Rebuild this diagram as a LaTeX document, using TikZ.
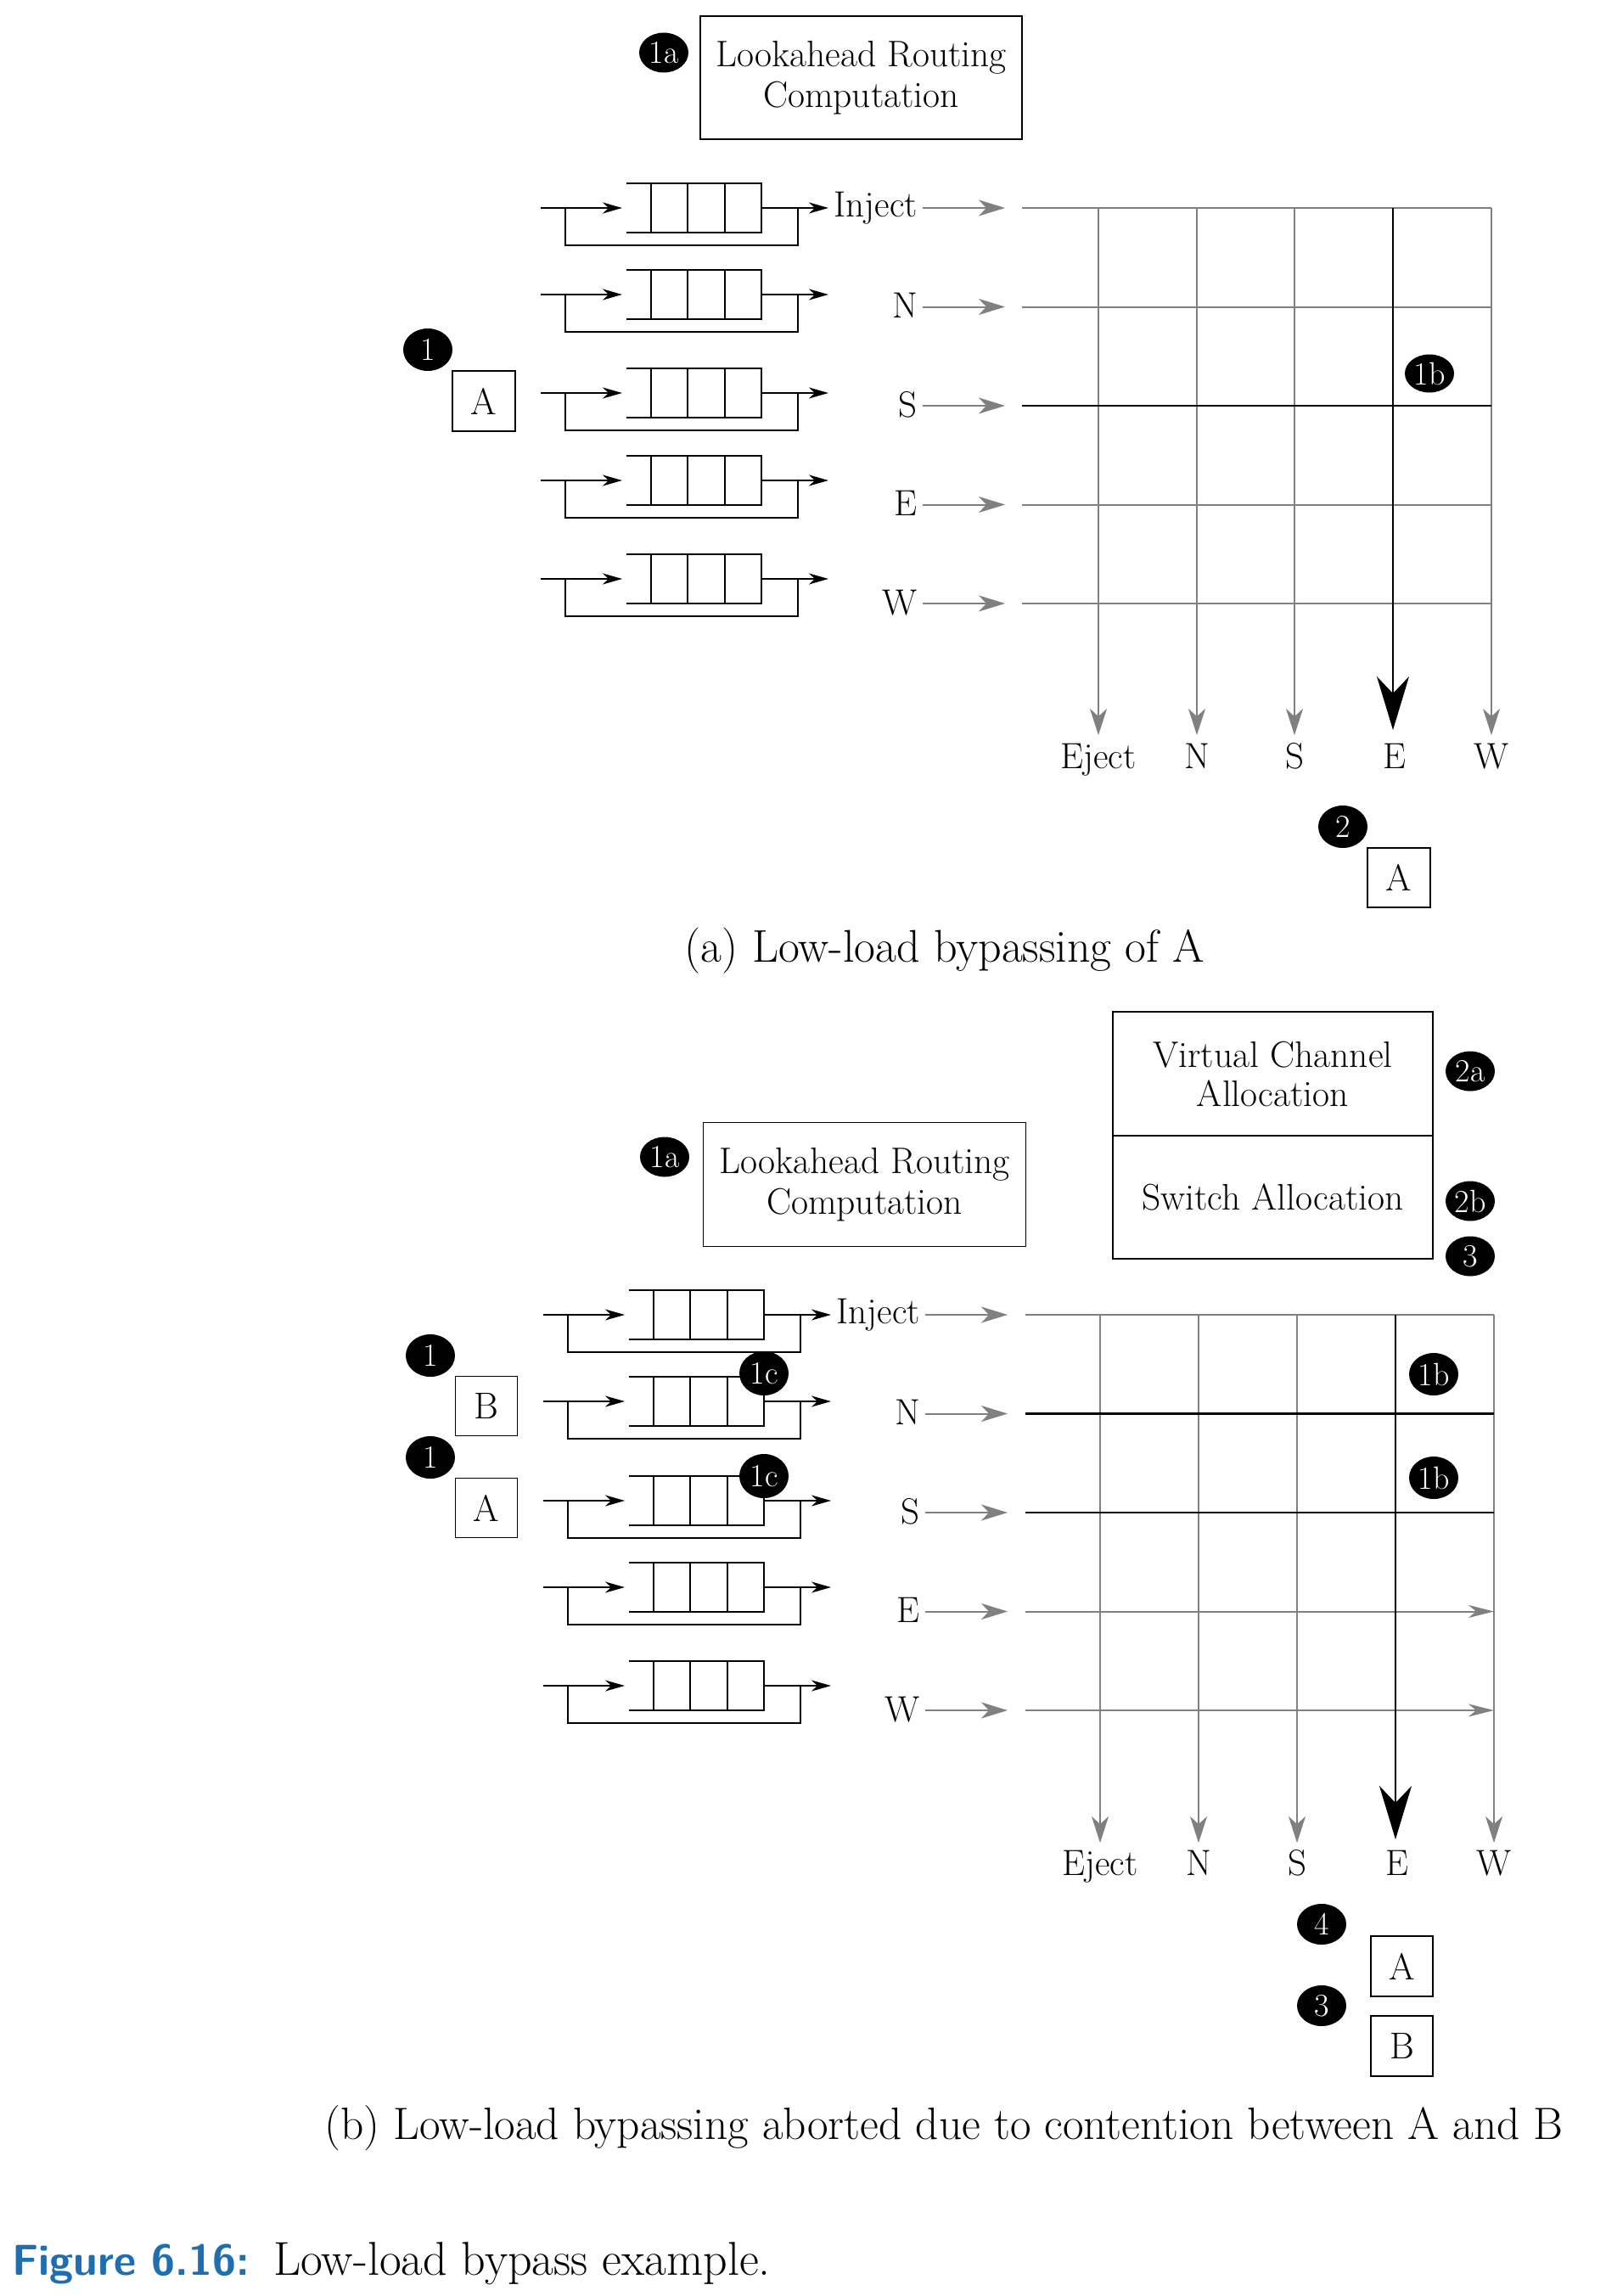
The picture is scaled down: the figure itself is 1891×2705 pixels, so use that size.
\documentclass[tikz,border=0pt]{standalone}
\usepackage{fontspec}
\usetikzlibrary{arrows.meta,shapes.geometric}
\definecolor{gridgray}{RGB}{128,128,128}
\definecolor{figblue}{RGB}{31,110,176}
\tikzset{
  qline/.style={line width=2pt, black},
  qarrow/.style={-{Stealth[length=23pt,width=13pt,inset=7pt]}},
  gline/.style={line width=2pt, gridgray},
  garrow/.style={-{Stealth[length=31pt,width=19pt,inset=9pt]}, gridgray, line width=2pt},
  gvarrow/.style={-{Stealth[length=31pt,width=20pt,inset=9pt]}, gridgray, line width=2pt},
  bline/.style={line width=2.2pt, black},
  bigarrow/.style={-{Stealth[length=63pt,width=38pt,inset=20pt]}, black, line width=2.2pt},
  badge/.style={ellipse, fill=black, text=white, inner sep=0pt, minimum width=58pt, minimum height=50pt, font=\fontsize{38}{38}\selectfont},
  pbox/.style={draw, line width=1.6pt, inner sep=0pt, minimum width=73pt, minimum height=70pt, font=\fontsize{44}{44}\selectfont},
  stagebox/.style={draw, line width=1.6pt, inner sep=0pt, align=center},
  lbl/.style={font=\fontsize{43}{44}\selectfont, inner sep=0pt},
  captext/.style={font=\fontsize{54}{58}\selectfont, inner sep=0pt},
}
\newcommand{\queuerow}[3]{%
\begin{scope}[shift={(#3,#2)}]
  \coordinate (#1in) at (637,0);
  \coordinate (#1tip) at (733,0);
  \coordinate (#1out) at (897,0);
  \coordinate (#1otip) at (976,0);
  \coordinate (#1lA) at (666,1);
  \coordinate (#1lB) at (940,1);
  \draw[qline,qarrow] (#1in) -- (#1tip);
  \draw[qline] (738,-29) -- (897,-29) -- (897,29) -- (738,29);
  \foreach \xx in {767,810,854} \draw[qline] (\xx,-29) -- (\xx,29);
  \draw[qline] (#1lA) -- ++(0,43) -| (#1lB);
  \draw[qline,qarrow] (#1out) -- (#1otip);
\end{scope}}
\begin{document}
\begin{tikzpicture}[x=1pt,y=-1pt]
\useasboundingbox[fill=white] (0,0) rectangle (1891,2705);

%%%%%%%%%%%%%%%% (a)
\node[stagebox, minimum width=379pt, minimum height=145pt, font=\fontsize{43.5}{48}\selectfont] (lrcA) at (1014.5,91.5) {Lookahead Routing\\Computation};
\node[badge, minimum height=47pt] (b1aA) at (782,62) {1a};

\queuerow{qaI}{245}{0}
\queuerow{qaN}{347}{0}
\queuerow{qaS}{463}{0}
\queuerow{qaE}{566}{0}
\queuerow{qaW}{682}{0}

\foreach \nm/\yy/\tx/\dy in {I/245/Inject/10, N/361.5/N/13, S/478/S/13, E/594.5/E/13, W/711/W/13}{
  \node[lbl, anchor=base east] (laA\nm) at (1081,\yy+\dy) {\tx};
  \coordinate (gaS\nm) at (1087,\yy);
  \coordinate (gaT\nm) at (1184,\yy);
  \draw[garrow] (gaS\nm) -- (gaT\nm);
  \coordinate (haL\nm) at (1204,\yy);
  \coordinate (haR\nm) at (1757,\yy);
  \draw[gline] (haL\nm) -- (haR\nm);
}
\foreach \nm/\xx/\tx in {X/1294/Eject, N/1410/N, S/1525/S, W/1757/W}{
  \coordinate (vaT\nm) at (\xx,245);
  \coordinate (vaB\nm) at (\xx,866);
  \draw[gvarrow] (vaT\nm) -- (vaB\nm);
  \node[lbl, anchor=base] (oaA\nm) at (\xx,905) {\tx};
}
\node[lbl, anchor=base] (oaAE) at (1643,905) {E};
\draw[bline] (haLS) -- (haRS);
\coordinate (vaTE) at (1641,245);
\coordinate (vaBE) at (1641,860);
\draw[bigarrow] (vaTE) -- (vaBE);

\node[badge] (b1A) at (504,412) {1};
\node[pbox, minimum width=74pt, minimum height=71pt] (pA1) at (570,472.5) {A};
\node[badge, minimum height=45pt] (b1bA) at (1684,440) {1b};
\node[badge] (b2A) at (1582,974) {2};
\node[pbox, minimum width=74pt, minimum height=70pt] (pA2) at (1648,1034) {A};

\node[captext, anchor=base] (capA) at (1113,1133) {(a) Low-load bypassing of A};

%%%%%%%%%%%%%%%% (b)
\node[stagebox, minimum width=377pt, minimum height=146pt, font=\fontsize{43.5}{46}\selectfont] (vcB) at (1499.5,1265) {Virtual Channel\\Allocation};
\node[stagebox, minimum width=377pt, minimum height=145pt, font=\fontsize{43.5}{46}\selectfont] (saB) at (1499.5,1410.5) {Switch Allocation};
\node[badge, minimum height=47pt] (b2aB) at (1732,1262) {2a};
\node[badge, minimum height=47pt] (b2bB) at (1732,1415) {2b};
\node[badge, minimum height=47pt] (b3B) at (1732,1480) {3};

\node[stagebox, minimum width=380pt, minimum height=146pt, font=\fontsize{43.5}{48}\selectfont] (lrcB) at (1018.5,1395.5) {Lookahead Routing\\Computation};
\node[badge, minimum height=47pt] (b1aB) at (783,1363) {1a};

\queuerow{qbI}{1549}{3}
\queuerow{qbN}{1651}{3}
\queuerow{qbS}{1768}{3}
\queuerow{qbE}{1870}{3}
\queuerow{qbW}{1986}{3}

\foreach \nm/\yy/\tx/\dy in {I/1549/Inject/10, N/1665.5/N/13, S/1782/S/13, E/1898.5/E/13, W/2015/W/13}{
  \node[lbl, anchor=base east] (lbB\nm) at (1084,\yy+\dy) {\tx};
  \coordinate (gbS\nm) at (1090,\yy);
  \coordinate (gbT\nm) at (1187,\yy);
  \draw[garrow] (gbS\nm) -- (gbT\nm);
  \coordinate (hbL\nm) at (1208,\yy);
  \coordinate (hbR\nm) at (1760,\yy);
}
\foreach \nm in {I,N,S}{\draw[gline] (hbL\nm) -- (hbR\nm);}
\foreach \nm in {E,W}{\draw[gline,-{Stealth[length=30pt,width=15pt,inset=9pt]}] (hbL\nm) -- (hbR\nm);}
\foreach \nm/\xx/\tx in {X/1296/Eject, N/1412/N, S/1528/S, W/1760/W}{
  \coordinate (vbT\nm) at (\xx,1549);
  \coordinate (vbB\nm) at (\xx,2171);
  \draw[gvarrow] (vbT\nm) -- (vbB\nm);
  \node[lbl, anchor=base] (obB\nm) at (\xx,2209) {\tx};
}
\node[lbl, anchor=base] (obBE) at (1646,2209) {E};
\draw[bline] (hbLN) -- (hbRN);
\draw[bline] (hbLS) -- (hbRS);
\coordinate (vbTE) at (1644,1549);
\coordinate (vbBE) at (1644,2167);
\draw[bigarrow] (vbTE) -- (vbBE);

\node[badge] (b1B1) at (507,1597) {1};
\node[pbox] (pBB) at (573,1656.5) {B};
\node[badge] (b1B2) at (507,1717) {1};
\node[pbox] (pBA) at (573,1776.5) {A};
\node[badge, minimum height=52pt] (b1cB1) at (900,1618) {1c};
\node[badge, minimum height=52pt] (b1cB2) at (900,1739) {1c};
\node[badge, minimum height=50pt] (b1bB1) at (1689,1619) {1b};
\node[badge, minimum height=50pt] (b1bB2) at (1689,1741) {1b};

\node[badge, minimum height=48pt] (b4B) at (1557,2267) {4};
\node[pbox, minimum width=73pt, minimum height=71pt] (pA3) at (1651.5,2316.5) {A};
\node[badge, minimum height=48pt] (b3B2) at (1557,2363) {3};
\node[pbox, minimum width=73pt, minimum height=71pt] (pB3) at (1651.5,2410.5) {B};

\node[captext, font=\fontsize{53.4}{58}\selectfont, anchor=base] (capB) at (1112,2520) {(b) Low-load bypassing aborted due to contention between A and B};

%%%%%%%%%%%%%%%% figure caption
\node[anchor=base west, inner sep=0pt, text=figblue, font=\fontsize{51}{54}\selectfont\sffamily\bfseries] (figlab) at (14,2680) {Figure 6.16:};
\node[anchor=base west, inner sep=0pt, font=\fontsize{56}{60}\selectfont] (figtxt) at (322,2680) {Low-load bypass example.};
\end{tikzpicture}
\end{document}
